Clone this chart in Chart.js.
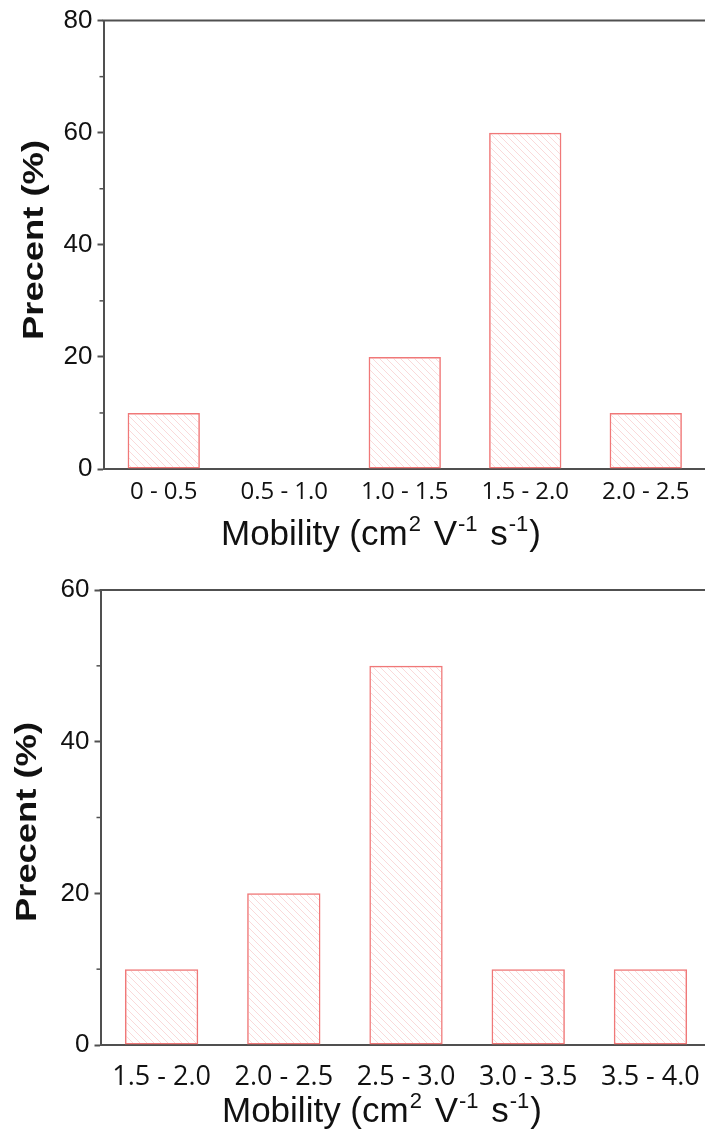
<!DOCTYPE html>
<html><head><meta charset="utf-8">
<script src="https://cdn.jsdelivr.net/npm/chart.js@4/dist/chart.umd.min.js"></script>
<style>
html,body{margin:0;padding:0;background:#fff;overflow:hidden;width:705px;height:1139px;position:relative;}
canvas{position:absolute;left:0;}
#c1{top:0;}
#c2{top:560px;}
</style></head><body>
<canvas id="c1" width="712" height="560"></canvas>
<canvas id="c2" width="716" height="579"></canvas>
<script>
// ---- data ----
const categoriesTop = ['0 - 0.5', '0.5 - 1.0', '1.0 - 1.5', '1.5 - 2.0', '2.0 - 2.5'];
const valuesTop = [10, 0, 20, 60, 10];
const yTicksTop = [0, 20, 40, 60, 80];

const categoriesBottom = ['1.5 - 2.0', '2.0 - 2.5', '2.5 - 3.0', '3.0 - 3.5', '3.5 - 4.0'];
const valuesBottom = [10, 20, 50, 10, 10];
const yTicksBottom = [0, 20, 40, 60];

const yTitleText = 'Precent (%)';
// [text, isSuperscript]
const xTitleParts = [['Mobility (cm', false], ['2', true], [' V', false], ['-1', true], [' s', false], ['-1', true], [')', false]];

// ---- styles ----
const AXIS = '#505050';
const TEXT = '#111';
const BAR_EDGE = 'rgb(240,120,120)';

function hatch(canvas) {
  const t = document.createElement('canvas');
  t.width = 7; t.height = 7;
  const g = t.getContext('2d');
  g.strokeStyle = 'rgba(240,140,140,0.32)';
  g.lineWidth = 1;
  g.beginPath();
  g.moveTo(-1, -1); g.lineTo(8, 8);
  g.moveTo(-1, 6); g.lineTo(1, 8);
  g.moveTo(6, -1); g.lineTo(8, 1);
  g.stroke();
  return canvas.getContext('2d').createPattern(t, 'repeat');
}

const decor = {
  id: 'decor',
  afterDraw(chart, args, o) {
    const {ctx, chartArea: a, scales: {y}} = chart;
    ctx.save();
    // frame top
    ctx.strokeStyle = AXIS; ctx.lineWidth = 2;
    ctx.beginPath();
    ctx.moveTo(a.left - 1, a.top); ctx.lineTo(chart.width, a.top);
    ctx.stroke();
    // minor ticks
    ctx.lineWidth = 1.5;
    for (let i = 0; i < o.yTicks.length - 1; i++) {
      const v = (o.yTicks[i] + o.yTicks[i + 1]) / 2;
      const py = y.getPixelForValue(v);
      ctx.beginPath(); ctx.moveTo(a.left - 4, py); ctx.lineTo(a.left, py); ctx.stroke();
    }
    // y title (rotated)
    ctx.fillStyle = TEXT;
    ctx.font = 'bold 30px "Liberation Sans", Arial, sans-serif';
    const w = ctx.measureText(yTitleText).width;
    ctx.save();
    ctx.translate(o.yTitleX, o.yTitleY);
    ctx.rotate(-Math.PI / 2);
    ctx.scale(o.yTitleLen / w, 1);
    ctx.textAlign = 'center'; ctx.textBaseline = 'alphabetic';
    ctx.fillText(yTitleText, 0, 0);
    ctx.restore();
    // x title with superscripts
    let x = o.xTitleX;
    ctx.textAlign = 'left'; ctx.textBaseline = 'alphabetic';
    xTitleParts.forEach(([t, sup], i) => {
      ctx.font = (sup ? '22px' : '35px') + ' "Liberation Sans", Arial, sans-serif';
      if (sup) x += 1;
      ctx.fillText(t, x, o.xTitleY - (sup ? 14 : 0));
      x += ctx.measureText(t).width + (sup ? (i === xTitleParts.length - 2 ? 1 : 3) : 0);
    });
    ctx.restore();
  }
};

function makeChart(id, cats, vals, yTicks, cfg) {
  const canvas = document.getElementById(id);
  return new Chart(canvas, {
    type: 'bar',
    data: {
      labels: cats,
      datasets: [{
        data: vals,
        backgroundColor: hatch(canvas),
        borderColor: BAR_EDGE,
        borderWidth: 1.5,
        borderSkipped: false,
        barPercentage: 0.6,
        categoryPercentage: 1.0
      }]
    },
    options: {
      responsive: false,
      animation: false,
      devicePixelRatio: 1,
      layout: {padding: cfg.padding},
      plugins: {legend: {display: false}, tooltip: {enabled: false}, decor: cfg.decor},
      scales: {
        x: {
          z: 1,
          ticks: {font: {family: '"Open Sans", sans-serif', size: cfg.xFont}, color: TEXT, padding: cfg.xPad, maxRotation: 0, autoSkip: false},
          grid: {display: false, drawTicks: false},
          border: {display: true, color: AXIS, width: 2},
          afterFit(s) { s.height = cfg.xHeight; }
        },
        y: {
          z: 1,
          min: yTicks[0], max: yTicks[yTicks.length - 1],
          afterBuildTicks(s) { s.ticks = yTicks.map(v => ({value: v})); },
          ticks: {font: {family: '"Liberation Sans", Arial, sans-serif', size: 26}, color: TEXT, padding: 5},
          grid: {drawOnChartArea: false, drawTicks: true, tickLength: 6, tickColor: AXIS, tickWidth: 2},
          border: {display: true, color: AXIS, width: 2},
          afterFit(s) { s.width = cfg.yWidth; }
        }
      }
    },
    plugins: [decor]
  });
}

makeChart('c1', categoriesTop, valuesTop, yTicksTop, {
  padding: {top: 20.5, right: 6, bottom: 0, left: 0},
  xFont: 24, xPad: 9, xHeight: 91, yWidth: 103.5,
  decor: {yTicks: yTicksTop, yTitleX: 43, yTitleY: 240, yTitleLen: 200, xTitleX: 221, xTitleY: 545}
});
makeChart('c2', categoriesBottom, valuesBottom, yTicksBottom, {
  padding: {top: 30, right: 2.5, bottom: 0, left: 0},
  xFont: 27, xPad: 16, xHeight: 94, yWidth: 100.5,
  decor: {yTicks: yTicksBottom, yTitleX: 36, yTitleY: 262, yTitleLen: 200, xTitleX: 222, xTitleY: 562}
});
</script>
</body></html>
